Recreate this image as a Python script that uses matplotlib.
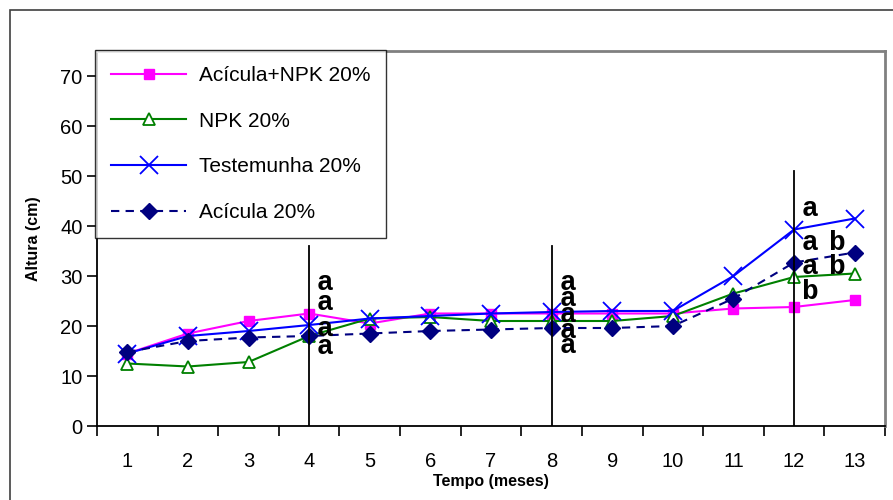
import numpy as np
import matplotlib.pyplot as plt
from matplotlib.patches import Rectangle

# dados
meses = np.arange(1, 14)
acicula_npk = [14.5, 18.5, 21.0, 22.5, 20.5, 22.5, 22.5, 22.5, 22.5, 22.5, 23.5, 23.8, 25.2]
npk = [12.5, 11.9, 12.8, 18.0, 21.5, 21.8, 21.0, 21.0, 21.0, 22.0, 26.5, 29.8, 30.5]
testemunha = [14.5, 18.0, 19.0, 20.2, 21.5, 22.0, 22.5, 22.8, 23.0, 23.0, 30.0, 39.3, 41.5]
acicula = [14.8, 17.0, 17.7, 18.0, 18.5, 19.0, 19.3, 19.6, 19.6, 20.0, 25.5, 32.7, 34.7]

# linhas verticais (mês, altura) e letras de significância
linhas_mes = [4, 8, 12]
linhas_topo = [36, 36, 51]
letras = {
    4: [(28.5, "a"), (24.5, "a"), (19.5, "a"), (15.8, "a")],
    8: [(28.5, "a"), (25.3, "a"), (22.1, "a"), (18.9, "a"), (16.0, "a")],
    12: [(43.5, "a"), (36.5, "ab"), (31.8, "ab"), (26.8, "b")],
}

plt.rcParams['font.family'] = ['Liberation Sans', 'DejaVu Sans']

fig = plt.figure(figsize=(8.93, 5.0), dpi=100)
fig.patches.append(Rectangle((10 / 893, -0.01), 1.0, 1 - 10 / 500 + 0.01, transform=fig.transFigure,
                             fill=False, edgecolor='#404040', linewidth=1.2))
ax = fig.add_axes([97 / 893, 74 / 500, 788 / 893, 375 / 500])

ax.plot(meses, acicula_npk, color='#ff00ff', marker='s', markersize=7, linewidth=1.5,
        label='Acícula+NPK 20%')
ax.plot(meses, npk, color='#008000', marker='^', markersize=8, markerfacecolor='white',
        markeredgewidth=1.3, linewidth=1.5, label='NPK 20%')
ax.plot(meses, testemunha, color='#0000ff', marker='x', markersize=13, markeredgewidth=1.3,
        linewidth=1.5, label='Testemunha 20%')
ax.plot(meses, acicula, color='#000080', marker='D', markersize=8, linewidth=1.5,
        linestyle=(0, (4, 3)), label='Acícula 20%')

for m, t in zip(linhas_mes, linhas_topo):
    ax.plot([m, m], [0, t], color='black', linewidth=1.3)

for m, itens in letras.items():
    for y, s in itens:
        for i, c in enumerate(s):
            ax.text(m + 0.13 + i * 0.45, y, c, fontsize=20, fontweight='bold',
                    family='Liberation Mono', va='center', ha='left')

ax.set_xlim(0.5, 13.5)
ax.set_ylim(0, 75)
ax.set_yticks(np.arange(0, 80, 10))
ax.set_xticks(np.arange(0.5, 14, 1))
ax.set_xticklabels([])
ax.set_xticks(meses, minor=True)
ax.set_xticklabels([str(m) for m in meses], minor=True)
ax.tick_params(axis='x', which='minor', length=0, labelsize=14.5, pad=19)
ax.tick_params(axis='x', which='major', length=7, direction='out', width=1.2)
ax.tick_params(axis='y', length=7, direction='out', width=1.2, labelsize=14.5)

ax.spines['left'].set_linewidth(1.3)
ax.spines['bottom'].set_linewidth(1.3)
ax.spines['top'].set_color('#808080')
ax.spines['right'].set_color('#808080')
ax.spines['top'].set_linewidth(2)
ax.spines['right'].set_linewidth(2)

ax.set_xlabel('Tempo (meses)', fontsize=11.5, fontweight='bold', labelpad=2)
ax.set_ylabel('Altura (cm)', fontsize=11.5, fontweight='bold', labelpad=14)

leg = ax.legend(loc='upper left', bbox_to_anchor=(-0.002, 1.002), borderaxespad=0, fontsize=15,
                frameon=True, fancybox=False, edgecolor='black', handlelength=3.6,
                labelspacing=1.28, borderpad=0.75, handletextpad=0.6)
leg.get_frame().set_linewidth(1.0)

fig.savefig('out.png', dpi=100)
